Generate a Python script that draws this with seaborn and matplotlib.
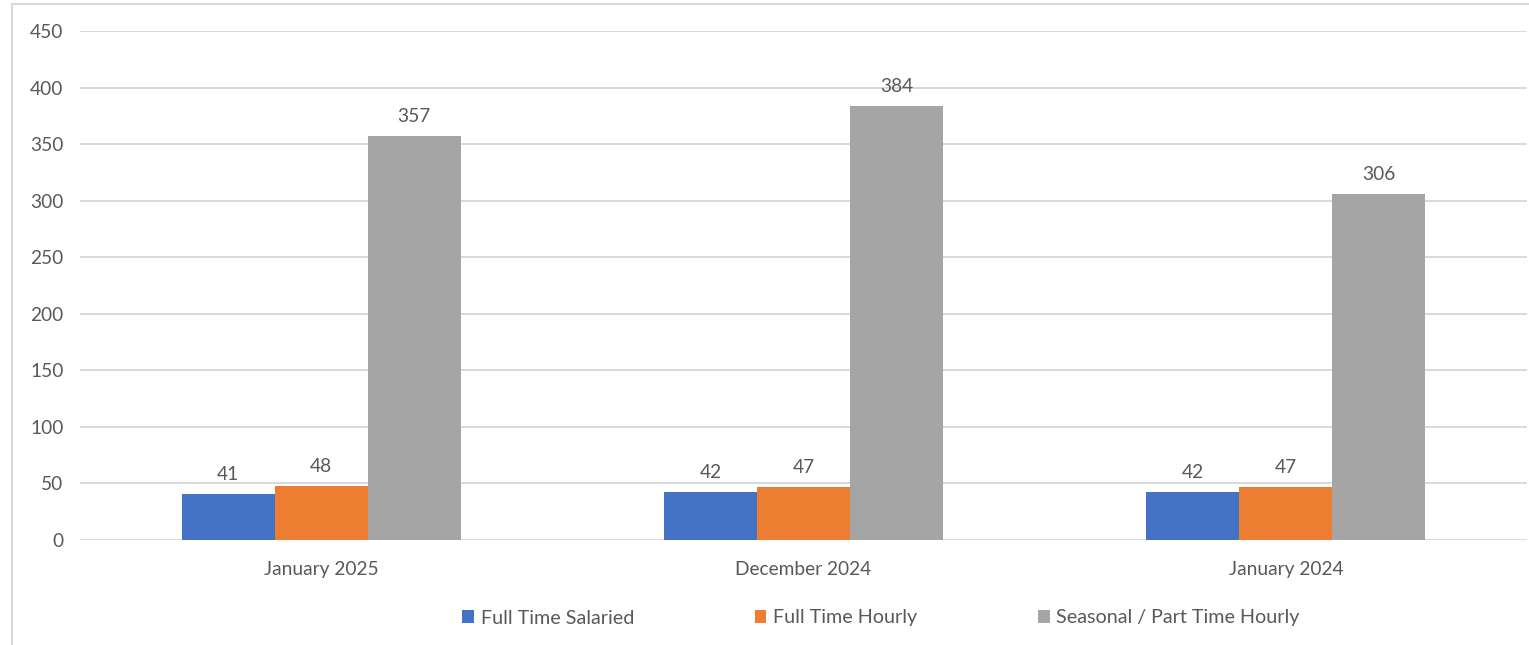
import matplotlib
matplotlib.use("Agg")
import matplotlib.pyplot as plt
import seaborn as sns
import pandas as pd
from matplotlib.patches import Rectangle, Patch

categories = ["January 2025", "December 2024", "January 2024"]
series_names = ["Full Time Salaried", "Full Time Hourly", "Seasonal / Part Time Hourly"]
full_time_salaried = [41, 42, 42]
full_time_hourly = [48, 47, 47]
seasonal_part_time = [357, 384, 306]
y_ticks = [0, 50, 100, 150, 200, 250, 300, 350, 400, 450]
colors = ["#4472C4", "#ED7D31", "#A5A5A5"]

rows = []
for name, vals in zip(series_names, [full_time_salaried, full_time_hourly, seasonal_part_time]):
    for c, v in zip(categories, vals):
        rows.append({"category": c, "series": name, "value": v})
df = pd.DataFrame(rows)

sns.set_theme(style="white")
plt.rcParams["font.family"] = ["Lato", "DejaVu Sans"]
text_color = "#595959"
grid_color = "#D9D9D9"
fs = 13.8

W, H = 1529, 645
fig = plt.figure(figsize=(W / 100, H / 100), dpi=100)
ax = fig.add_axes([80 / W, 1 - 540 / H, (1527 - 80) / W, (540 - 31) / H])
ax.patch.set_edgecolor("none")

sns.barplot(data=df, x="category", y="value", hue="series", order=categories,
            hue_order=series_names, palette=colors, width=0.579, saturation=1,
            legend=False, ax=ax, zorder=3)

ax.set_ylim(0, 450)
ax.set_yticks(y_ticks)
ax.set_xlabel("")
ax.set_ylabel("")
ax.yaxis.grid(True, color=grid_color, linewidth=1.4, zorder=0)
ax.set_axisbelow(True)
for s in ax.spines.values():
    s.set_visible(False)
ax.tick_params(axis="both", length=0, labelsize=fs, colors=text_color)
ax.tick_params(axis="y", pad=12)
ax.tick_params(axis="x", pad=15)
ax.set_xlim(-0.5, 2.5)

for cont in ax.containers:
    for bar in cont:
        bar.set_edgecolor("none")
    ax.bar_label(cont, fmt="%d", padding=8, fontsize=fs, color=text_color)

# figure border (left and top edges visible)
fig.patches.append(Rectangle((12 / W, -0.05), 1.3, 1 - 4 / H + 0.05,
                             transform=fig.transFigure, fill=False,
                             edgecolor=grid_color, linewidth=1.5))

handles = [Patch(facecolor=c, edgecolor="none") for c in colors]
fig.legend(handles, series_names, loc="center", bbox_to_anchor=(881 / W, 1 - 618 / H),
           ncol=3, frameon=False, fontsize=14.2, labelcolor=text_color,
           handlelength=0.6, handleheight=0.6, handletextpad=0.35, columnspacing=6.1)

fig.savefig("out.png", dpi=100)
